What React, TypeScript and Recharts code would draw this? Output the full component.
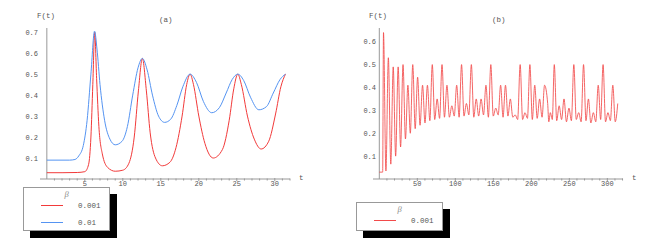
import React from "react";
import { LineChart, Line, XAxis, YAxis, ReferenceLine } from "recharts";

// (a) F(t) for two beta values
const redA = [
  [0, 0.03], [2, 0.03], [4, 0.031], [5, 0.035], [5.5, 0.07], [5.8, 0.2], [6.05, 0.45],
  [6.3, 0.7], [6.55, 0.48], [6.85, 0.25], [7.3, 0.12], [8, 0.055], [9, 0.037], [10, 0.042],
  [10.8, 0.075], [11.5, 0.2], [12.05, 0.42], [12.57, 0.575], [13.1, 0.42], [13.6, 0.22],
  [14.3, 0.1], [15.2, 0.063], [16.2, 0.08], [17, 0.15], [17.8, 0.3], [18.4, 0.45],
  [18.85, 0.5], [19.3, 0.45], [20, 0.3], [20.8, 0.17], [21.9, 0.1], [23.1, 0.14], [24, 0.28],
  [24.6, 0.43], [25.13, 0.5], [25.6, 0.45], [26.4, 0.3], [27.3, 0.19], [28.2, 0.143],
  [29.2, 0.18], [30.1, 0.31], [30.8, 0.44], [31.4, 0.5],
];
const blueA = [
  [0, 0.09], [3, 0.09], [3.7, 0.093], [4.2, 0.11], [4.8, 0.16], [5.3, 0.28], [5.8, 0.5],
  [6.28, 0.705], [6.6, 0.62], [7.0, 0.45], [7.6, 0.28], [8.3, 0.19], [9.0, 0.163],
  [9.9, 0.18], [10.6, 0.25], [11.3, 0.4], [12.0, 0.53], [12.57, 0.575], [13.2, 0.52],
  [13.9, 0.4], [14.7, 0.3], [15.5, 0.27], [16.3, 0.285], [17.1, 0.35], [17.9, 0.44],
  [18.85, 0.5], [19.7, 0.46], [20.6, 0.37], [21.7, 0.316], [22.7, 0.34], [23.6, 0.41],
  [24.4, 0.475], [25.13, 0.5], [25.9, 0.47], [26.8, 0.39], [27.9, 0.33], [28.9, 0.345],
  [29.8, 0.41], [30.7, 0.475], [31.4, 0.5],
];

// (b) long run, beta = 0.001
const redB = [
  [0, 0.03], [4.4, 0.03],
  [5.5, 0.64], [8.7, 0.035], [11.9, 0.53], [15.1, 0.065], [18.3, 0.49], [21.5, 0.1],
  [24.8, 0.49], [28.0, 0.14], [31.2, 0.5], [34.4, 0.175], [37.6, 0.41], [40.8, 0.2],
  [44.0, 0.5], [47.2, 0.22], [50.4, 0.445], [53.6, 0.235], [56.9, 0.41], [60.1, 0.245],
  [63.3, 0.41], [66.5, 0.255], [69.7, 0.5], [72.9, 0.26], [76.1, 0.35], [79.3, 0.265],
  [82.5, 0.5], [85.7, 0.27], [89.0, 0.41], [92.2, 0.27], [95.4, 0.32], [98.6, 0.275],
  [101.8, 0.41], [105.0, 0.27], [108.2, 0.5], [111.4, 0.275], [114.6, 0.33], [117.8, 0.28],
  [121.1, 0.5], [124.3, 0.27], [127.5, 0.35], [130.7, 0.275], [133.9, 0.35], [137.1, 0.28],
  [140.3, 0.41], [143.5, 0.27], [146.7, 0.5], [149.9, 0.275], [153.2, 0.31], [156.4, 0.28],
  [159.6, 0.41], [162.8, 0.27], [166.0, 0.41], [169.2, 0.275], [172.4, 0.35], [175.6, 0.27],
  [178.8, 0.28], [182.0, 0.26], [185.3, 0.5], [188.5, 0.26], [191.7, 0.29], [194.9, 0.265],
  [198.1, 0.5], [201.3, 0.26], [204.5, 0.41], [207.7, 0.265], [210.9, 0.35], [214.1, 0.27],
  [217.4, 0.41], [221.5, 0.33], [223.0, 0.25], [225.0, 0.29], [227.6, 0.26],
  [230.2, 0.5], [233.4, 0.255], [236.6, 0.32], [239.8, 0.26], [243.0, 0.35], [246.2, 0.25],
  [249.5, 0.31], [252.7, 0.255], [255.9, 0.5], [259.1, 0.26], [262.3, 0.29], [265.5, 0.25],
  [268.7, 0.5], [271.9, 0.255], [275.1, 0.35], [278.3, 0.245], [281.6, 0.29], [284.8, 0.25],
  [288.0, 0.41], [291.2, 0.26], [294.4, 0.5], [297.6, 0.25], [300.8, 0.29], [304.0, 0.255],
  [307.2, 0.41], [310.4, 0.25], [313.7, 0.33],
];

const ticksXA = [5, 10, 15, 20, 25, 30];
const minorXA = [1, 2, 3, 4, 6, 7, 8, 9, 11, 12, 13, 14, 16, 17, 18, 19, 21, 22, 23, 24, 26, 27, 28, 29, 31, 32];
const ticksYA = [0.1, 0.2, 0.3, 0.4, 0.5, 0.6, 0.7];
const ticksXB = [50, 100, 150, 200, 250, 300];
const minorXB = [10, 20, 30, 40, 60, 70, 80, 90, 110, 120, 130, 140, 160, 170, 180, 190, 210, 220, 230, 240, 260, 270, 280, 290, 310, 320];
const ticksYB = [0.1, 0.2, 0.3, 0.4, 0.5, 0.6];

const RED = "#f23a3a";
const BLUE = "#5594f2";
const RED_B = "#f24a4a";
const seriesA = [
  { label: "0.001", color: RED },
  { label: "0.01", color: BLUE },
];
const seriesB = [{ label: "0.001", color: RED_B }];

const toRows = (pts: number[][]) => pts.map(([t, f]) => ({ t, f }));

const MONO = "'Liberation Mono', 'DejaVu Sans Mono', monospace";
const AXIS = "#999";
const TXT = "#555";
const tickStyle = { fontSize: 7, fill: TXT, fontFamily: MONO };

// x tick: small mark for every tick, label only on the major ones
function XTick(props: any) {
  const { x, y, payload, majors } = props;
  const major = majors.includes(payload.value);
  return (
    <g>
      <line x1={x} x2={x} y1={y - (major ? 1 : 0.5)} y2={y + (major ? 2 : 1.5)} stroke={AXIS} />
      {major && (
        <text x={x} y={y + 2.5} dy="0.71em" textAnchor="middle" {...tickStyle}>
          {payload.value}
        </text>
      )}
    </g>
  );
}

function Panel({
  series,
  lines,
  xDomain,
  yDomain,
  xTicks,
  minorTicks,
  yTicks,
  yTickMargin,
  lineWidth,
}: {
  series: { label: string; color: string }[];
  lines: number[][][];
  xDomain: [number, number];
  yDomain: [number, number];
  xTicks: number[];
  minorTicks: number[];
  yTicks: number[];
  yTickMargin: number;
  lineWidth: number;
}) {
  return (
    <LineChart width={334} height={249} margin={{ top: 28, right: 44, left: 10, bottom: 50 }}>
      <XAxis
        type="number"
        dataKey="t"
        domain={xDomain}
        ticks={[...minorTicks, ...xTicks]}
        interval={0}
        height={20}
        axisLine={{ stroke: AXIS, strokeWidth: 1 }}
        tickLine={false}
        tickSize={0}
        tickMargin={0}
        tick={<XTick majors={xTicks} />}
        allowDataOverflow
      />
      <YAxis
        type="number"
        domain={yDomain}
        ticks={yTicks}
        width={30}
        axisLine={false}
        tickLine={false}
        tickSize={0}
        tickMargin={yTickMargin}
        tick={tickStyle}
        allowDataOverflow
      />
      <ReferenceLine x={0} stroke={AXIS} />
      {lines.map((pts, i) => (
        <Line
          key={i}
          data={toRows(pts)}
          dataKey="f"
          type="monotone"
          stroke={series[i].color}
          strokeWidth={lineWidth}
          dot={false}
          isAnimationActive={false}
        />
      ))}
    </LineChart>
  );
}

function LegendBox({
  series,
  left,
  top,
  height,
}: {
  series: { label: string; color: string }[];
  left: number;
  top: number;
  height: number;
}) {
  return (
    <div style={{ position: "absolute", left, top, width: 87, height }}>
      <div style={{ position: "absolute", left: 7, top: 6.5, width: 87, height, background: "#000" }} />
      <div
        style={{
          position: "absolute",
          left: 0,
          top: 0,
          width: 85,
          height: height - 2,
          background: "#fff",
          border: "1px solid #999",
        }}
      >
        <div
          style={{
            position: "absolute",
            left: 0,
            width: 85,
            top: 1,
            textAlign: "center",
            font: "italic 8.5px 'Liberation Serif', serif",
            color: "#888",
          }}
        >
          β
        </div>
        {series.map((s, i) => (
          <div key={s.label} style={{ position: "absolute", left: 0, top: 13 + i * 17, width: 85, height: 10 }}>
            <div style={{ position: "absolute", left: 17, top: 4, width: 22, height: 1, background: s.color }} />
            <div
              style={{
                position: "absolute",
                left: 54,
                top: 0,
                fontFamily: MONO,
                fontSize: 7.5,
                lineHeight: "10px",
                color: TXT,
              }}
            >
              {s.label}
            </div>
          </div>
        ))}
      </div>
    </div>
  );
}

const label = (text: string, left: number, top: number) => (
  <div
    style={{
      position: "absolute",
      left,
      top,
      fontFamily: MONO,
      fontSize: 7.5,
      lineHeight: "10px",
      color: TXT,
      whiteSpace: "nowrap",
    }}
  >
    {text}
  </div>
);

export default function App() {
  return (
    <div style={{ position: "absolute", left: 0, top: 0, width: 667, height: 249, background: "#fff" }}>
      <div style={{ position: "absolute", left: 0, top: 0 }}>
        <Panel
          series={seriesA}
          lines={[redA, blueA]}
          xDomain={[-0.9, 32]}
          yDomain={[0, 0.72]}
          xTicks={ticksXA}
          minorTicks={minorXA}
          yTicks={ticksYA}
          yTickMargin={2}
          lineWidth={1}
        />
      </div>
      <div style={{ position: "absolute", left: 333, top: 0 }}>
        <Panel
          series={seriesB}
          lines={[redB]}
          xDomain={[-8.3, 320.6]}
          yDomain={[0, 0.66]}
          xTicks={ticksXB}
          minorTicks={minorXB}
          yTicks={ticksYB}
          yTickMargin={-3}
          lineWidth={0.85}
        />
      </div>
      {label("F(t)", 37, 11)}
      {label("(a)", 159, 15)}
      {label("t", 299, 173)}
      {label("F(t)", 369, 11)}
      {label("(b)", 492, 15)}
      {label("t", 632, 173)}
      <LegendBox series={seriesA} left={23} top={187} height={44} />
      <LegendBox series={seriesB} left={356} top={202} height={29} />
    </div>
  );
}
